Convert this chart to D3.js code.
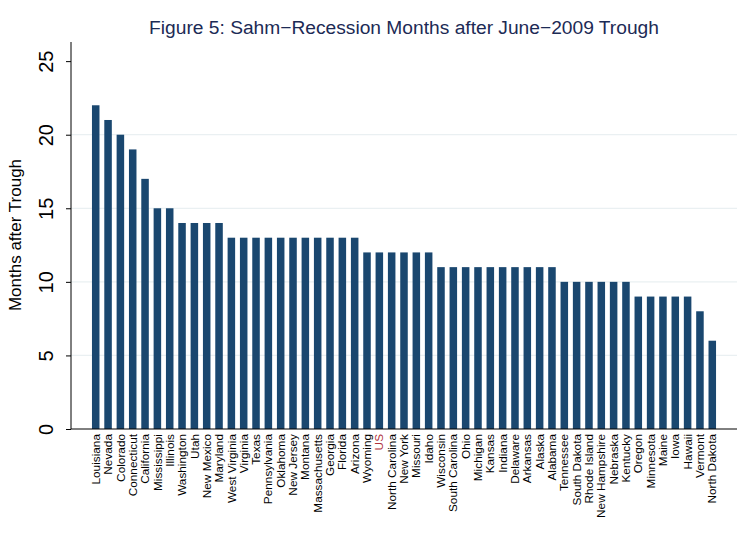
<!DOCTYPE html>
<html lang="en">
  <head>
    <meta charset="utf-8">
    <script src="https://cdn.jsdelivr.net/npm/d3@7"></script>
    <style>
      body { margin: 0; background: #fff; }
      text { font-family: "Liberation Sans", Arial, sans-serif; }
    </style>
  </head>
  <body>
  <script>

    var states = ['Louisiana','Nevada','Colorado','Connecticut','California','Mississippi','Illinois',
      'Washington','Utah','New Mexico','Maryland','West Virginia','Virginia','Texas','Pennsylvania',
      'Oklahoma','New Jersey','Montana','Massachusetts','Georgia','Florida','Arizona','Wyoming','US',
      'North Carolina','New York','Missouri','Idaho','Wisconsin','South Carolina','Ohio','Michigan',
      'Kansas','Indiana','Delaware','Arkansas','Alaska','Alabama','Tennessee','South Dakota',
      'Rhode Island','New Hampshire','Nebraska','Kentucky','Oregon','Minnesota','Maine','Iowa',
      'Hawaii','Vermont','North Dakota'];
    var months = [22,21,20,19,17,15,15,
      14,14,14,14,13,13,13,13,
      13,13,13,13,13,13,13,12,12,
      12,12,12,12,11,11,11,11,
      11,11,11,11,11,11,10,10,
      10,10,10,10,9,9,9,9,
      9,8,6];
    var yTicks = [0,5,10,15,20,25];

    var width = 756, height = 549;
    var pLeft = 71, pRight = 737, pTop = 42, pBottom = 429;

    var svg = d3.select('body').append('svg')
      .attr('width', width).attr('height', height);

    var x = d3.scaleBand().domain(states)
      .range([pLeft, pRight]).paddingInner(0.39).paddingOuter(1.7);
    var y = d3.scaleLinear().domain([0, 26.3]).range([pBottom, pTop]);

    // grid
    svg.append('g').selectAll('line').data(yTicks.filter(function(d){ return d > 0 && d < 25; }))
      .enter().append('line')
      .attr('x1', pLeft).attr('x2', pRight)
      .attr('y1', function(d){ return y(d); }).attr('y2', function(d){ return y(d); })
      .attr('stroke', '#eaf0f2').attr('stroke-width', 1.2);

    svg.append('g').selectAll('rect').data(states).enter().append('rect')
      .attr('x', function(d){ return x(d); })
      .attr('width', x.bandwidth())
      .attr('y', function(d,i){ return y(months[i]); })
      .attr('height', function(d,i){ return y(0) - y(months[i]); })
      .attr('fill', '#1a476f');

    // y axis
    var yAxis = d3.axisLeft(y).tickValues(yTicks).tickSize(5);
    var gy = svg.append('g').attr('transform', 'translate(' + pLeft + ',0)').call(yAxis);
    gy.select('.domain').attr('d', 'M0,' + pTop + 'V' + pBottom).attr('stroke', '#000');
    gy.selectAll('.tick line').attr('stroke', '#000');
    gy.selectAll('.tick text')
      .attr('x', null).attr('dy', null)
      .attr('transform', 'translate(-18,0) rotate(-90)')
      .attr('text-anchor', 'middle')
      .style('font-size', '20px').attr('fill', '#000');

    // x axis
    var xAxis = d3.axisBottom(x).tickSize(0).tickPadding(0);
    var gx = svg.append('g').attr('transform', 'translate(0,' + pBottom + ')').call(xAxis);
    gx.select('.domain').attr('d', 'M' + pLeft + ',0H' + pRight).attr('stroke', '#000');
    gx.selectAll('.tick text')
      .attr('transform', 'rotate(-90)')
      .attr('x', -5).attr('y', 0).attr('dy', '0.35em')
      .attr('text-anchor', 'end')
      .style('font-size', '11.8px')
      .attr('fill', function(d){ return d == 'US' ? '#b0303a' : '#000'; });

    svg.append('text')
      .attr('transform', 'translate(21,235) rotate(-90)')
      .attr('text-anchor', 'middle')
      .style('font-size', '17px')
      .text('Months after Trough');

    svg.append('text')
      .attr('x', 404).attr('y', 34)
      .attr('text-anchor', 'middle')
      .attr('fill', '#1c2a55')
      .style('font-size', '19.2px')
      .text('Figure 5: Sahm\u2212Recession Months after June\u22122009 Trough');

  </script>
  </body>
</html>
